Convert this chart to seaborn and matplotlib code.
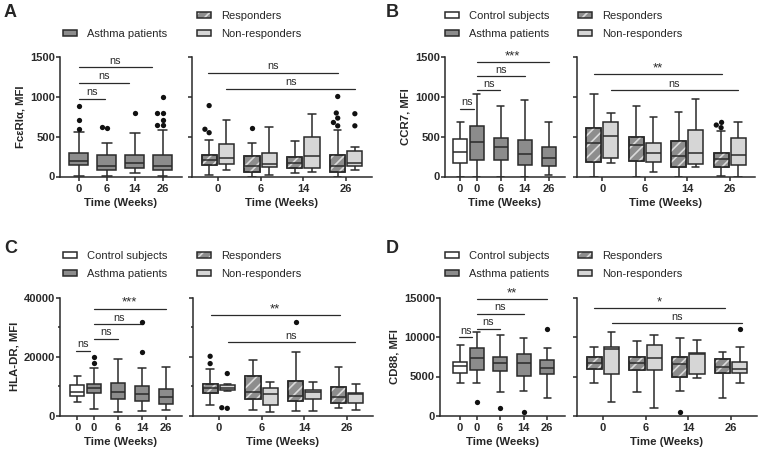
import matplotlib
matplotlib.use("Agg")
import numpy as np
import pandas as pd
import matplotlib.pyplot as plt
import matplotlib.patches as mpatches
from matplotlib.colors import to_rgb
from matplotlib.legend_handler import HandlerTuple
import seaborn as sns

weeks = ["0", "6", "14", "26"]

# box summaries: [lower whisker, Q1, median, Q3, upper whisker]
# A - FcεRIα
a_asthma = [[10, 148, 190, 300, 555], [10, 76, 135, 267, 415],
            [42, 106, 174, 275, 550], [10, 85, 135, 275, 585]]
a_asthma_out = [[890, 710, 600], [605, 627], [797], [1004, 797, 797, 712, 644, 644]]
a_resp = [[13, 140, 203, 267, 458], [0, 59, 135, 263, 415],
          [42, 110, 174, 246, 449], [0, 51, 135, 271, 585]]
a_resp_out = [[890, 593, 550], [606], [], [1004, 797, 733, 678, 636]]
a_nonresp = [[76, 161, 237, 407, 712], [13, 119, 161, 297, 627],
             [55, 106, 258, 492, 788], [85, 135, 174, 318, 373]]
a_nonresp_out = [[], [], [], [788, 636]]

# B - CCR7
b_control = [0, 175, 304, 467, 680]
b_asthma = [[0, 208, 429, 633, 1030], [0, 208, 375, 488, 888],
            [0, 146, 279, 458, 958], [21, 133, 238, 375, 680]]
b_asthma_out = [[], [], [], []]
b_resp = [[0, 179, 425, 604, 1030], [0, 196, 396, 500, 888],
          [0, 125, 263, 446, 813], [8, 125, 221, 292, 571]]
b_resp_out = [[], [], [], [679, 613, 646]]
b_nonresp = [[167, 229, 508, 679, 800], [54, 188, 292, 417, 742],
             [125, 154, 292, 583, 967], [0, 146, 267, 479, 679]]
b_nonresp_out = [[], [], [], []]

# C - HLA-DR
c_control = [4620, 6870, 8230, 10480, 13630]
c_asthma = [[2370, 7660, 9350, 10820, 16110], [1240, 5630, 8000, 11270, 19160],
            [1580, 5180, 7320, 10250, 16340], [2030, 4060, 6310, 9010, 16680]]
c_asthma_out = [[20060, 17800], [], [31660, 21750], []]
c_resp = [[3700, 7620, 9520, 10970, 15900], [1900, 5820, 8060, 13660, 19040],
          [1680, 5040, 6720, 11760, 21610], [2580, 4260, 6380, 9740, 16570]]
c_resp_out = [[20160, 17690], [], [31690], []]
c_nonresp = [[8400, 8740, 9520, 10300, 10970], [1340, 3700, 7280, 9300, 11530],
             [1680, 5820, 8180, 8740, 11420], [1900, 4260, 7280, 7840, 10640]]
c_nonresp_out = [[14330, 2580, 2800], [], [], []]

# D - CD88
d_control = [4130, 5480, 6360, 6870, 8930]
d_asthma = [[4130, 5820, 7290, 8560, 10580], [2990, 5730, 6660, 7500, 10240],
            [3160, 5100, 6660, 7800, 9900], [2320, 5310, 6030, 7080, 8640]]
d_asthma_out = [[1810], [970], [550], [10960]]
d_resp = [[4210, 5900, 6740, 7420, 8770], [2990, 5820, 6660, 7420, 9520],
          [3200, 4970, 6530, 7500, 9820], [2320, 5390, 6150, 7160, 8130]]
d_resp_out = [[], [], [460], []]
d_nonresp = [[1810, 5310, 8470, 8770, 10660], [970, 5820, 7290, 8980, 10240],
             [4850, 5310, 7840, 7920, 9610], [4130, 5390, 5900, 6870, 8680]]
d_nonresp_out = [[], [], [], [10960]]

# styling
EDGE = "#2a2a2a"
COLORS = {"Control subjects": "white", "Asthma patients": "#8c8c8c",
          "Responders": "#8d8d8d", "Non-responders": "#d6d6d6"}
HATCH = "#dadada"
LW = 1.1
DOT_SIZE = 3.8
GROUPS = ["Responders", "Non-responders"]
CTRL_POS = -0.7
ASTHMA_POS = [0, 1, 2, 3]
TICK_FS = 8
LABEL_FS = 8.2

sns.set_style("ticks")
plt.rcParams["font.family"] = ["Liberation Sans", "DejaVu Sans"]
plt.rcParams.update({
    "axes.edgecolor": EDGE, "axes.linewidth": LW,
    "xtick.color": EDGE, "ytick.color": EDGE,
    "xtick.major.width": LW, "ytick.major.width": LW, "ytick.minor.width": LW,
    "xtick.major.size": 2.6, "ytick.major.size": 2.6, "ytick.minor.size": 1.8,
    "xtick.major.pad": 2.5, "ytick.major.pad": 1.0,
    "hatch.linewidth": 1.2,
})

W, H = 774, 462
fig = plt.figure(figsize=(W / 100, H / 100), dpi=100)


def px_axes(x0, y0, w, h):
    return fig.add_axes([x0 / W, 1 - (y0 + h) / H, w / W, h / H])


def add_hatch(ax, patch):
    z = patch.get_zorder()
    ax.add_patch(mpatches.PathPatch(patch.get_path(), transform=patch.get_transform(),
                                    facecolor="none", edgecolor=HATCH, hatch="///",
                                    lw=0, zorder=z + 0.01))
    ax.add_patch(mpatches.PathPatch(patch.get_path(), transform=patch.get_transform(),
                                    facecolor="none", edgecolor=EDGE, lw=LW, zorder=z + 0.02))


def brackets(ax, specs):
    for x1, x2, y, label in specs:
        ax.plot([x1, x2], [y, y], color=EDGE, lw=0.9, clip_on=False)
        fs = 9.5 if "*" in label else 7.8
        dy = 0.0 if "*" in label else 1.2
        ax.annotate(label, ((x1 + x2) / 2, y), xytext=(0, dy), textcoords="offset points",
                    ha="center", va="bottom", fontsize=fs, color=EDGE)


def style_axes(ax, ylim, yticks, ylabel=None, minor=None):
    ax.set_ylim(*ylim)
    ax.set_yticks(yticks)
    if minor:
        ax.set_yticks(minor, minor=True)
    sns.despine(ax=ax)
    ax.set_xlabel("Time (Weeks)", fontsize=LABEL_FS, fontweight="bold", labelpad=3)
    for t in ax.get_xticklabels() + ax.get_yticklabels():
        t.set_fontweight("bold")
        t.set_fontsize(TICK_FS)
    if ylabel:
        ax.set_ylabel(ylabel, fontsize=LABEL_FS, fontweight="bold", labelpad=3)
    else:
        ax.set_ylabel("")
        ax.tick_params(axis="y", labelleft=False)


def left_panel(ax, control, asthma, asthma_out, width, xlim):
    rows = []
    if control is not None:
        rows += [(CTRL_POS, "Control subjects", v) for v in control]
    for pos, five in zip(ASTHMA_POS, asthma):
        rows += [(pos, "Asthma patients", v) for v in five]
    df = pd.DataFrame(rows, columns=["pos", "group", "value"])
    sns.boxplot(data=df, x="pos", y="value", hue="group", palette=COLORS,
                native_scale=True, dodge=False, width=width, whis=(0, 100),
                showfliers=False, linecolor=EDGE, linewidth=LW, saturation=1,
                legend=False, ax=ax)
    out = pd.DataFrame([(pos, v) for pos, vals in zip(ASTHMA_POS, asthma_out) for v in vals],
                       columns=["pos", "value"])
    if len(out):
        sns.swarmplot(data=out, x="pos", y="value", native_scale=True, color="#111111",
                      size=DOT_SIZE, ax=ax)
    if control is not None:
        ax.set_xticks([CTRL_POS] + ASTHMA_POS, ["0"] + weeks)
    else:
        ax.set_xticks(ASTHMA_POS, weeks)
    ax.set_xlim(*xlim)


def right_panel(ax, resp, resp_out, nonresp, nonresp_out):
    rows = [(w, "Responders", v) for w, five in zip(weeks, resp) for v in five]
    rows += [(w, "Non-responders", v) for w, five in zip(weeks, nonresp) for v in five]
    df = pd.DataFrame(rows, columns=["week", "group", "value"])
    sns.boxplot(data=df, x="week", y="value", hue="group", order=weeks, hue_order=GROUPS,
                palette=COLORS, dodge=True, width=0.8, gap=0.12, whis=(0, 100),
                showfliers=False, linecolor=EDGE, linewidth=LW, saturation=1,
                legend=False, ax=ax)
    resp_rgb = to_rgb(COLORS["Responders"])
    for p in list(ax.patches):
        if np.allclose(p.get_facecolor()[:3], resp_rgb):
            add_hatch(ax, p)
    orows = [(w, "Responders", v) for w, vals in zip(weeks, resp_out) for v in vals]
    orows += [(w, "Non-responders", v) for w, vals in zip(weeks, nonresp_out) for v in vals]
    out = pd.DataFrame(orows, columns=["week", "group", "value"])
    if len(out):
        sns.swarmplot(data=out, x="week", y="value", hue="group", order=weeks,
                      hue_order=GROUPS, palette={g: "#111111" for g in GROUPS},
                      dodge=True, size=DOT_SIZE, legend=False, ax=ax)
    ax.set_xticks(range(len(weeks)), weeks)
    ax.set_xlim(-0.6, 3.6)


# legend handles
def box_handle(name):
    return mpatches.Patch(facecolor=COLORS[name], edgecolor=EDGE, lw=LW)


resp_handle = (mpatches.Patch(facecolor=COLORS["Responders"], edgecolor="none"),
               mpatches.Patch(facecolor="none", edgecolor=HATCH, hatch="///", lw=0),
               mpatches.Patch(facecolor="none", edgecolor=EDGE, lw=LW))
handles = {"Control subjects": box_handle("Control subjects"),
           "Asthma patients": box_handle("Asthma patients"),
           "Responders": resp_handle,
           "Non-responders": box_handle("Non-responders")}


def legend(x, y, names):
    fig.legend([handles[n] for n in names], names, loc="upper left",
               bbox_to_anchor=(x / W, 1 - y / H), frameon=False, fontsize=8,
               handlelength=1.3, handleheight=0.55, handletextpad=0.85,
               labelspacing=0.72, borderpad=0, borderaxespad=0,
               handler_map={tuple: HandlerTuple(ndivide=1, pad=0)})


# ---- A ----
ax = px_axes(60, 57, 122, 119.5)
left_panel(ax, None, a_asthma, a_asthma_out, 0.68, (-0.68, 3.69))
style_axes(ax, (0, 1500), [0, 500, 1000, 1500], "FcεRIα, MFI")
brackets(ax, [(0, 0.94, 975, "ns"), (0, 1.78, 1178, "ns"), (0, 2.61, 1369, "ns")])

ax = px_axes(192, 57, 180, 119.5)
right_panel(ax, a_resp, a_resp_out, a_nonresp, a_nonresp_out)
style_axes(ax, (0, 1500), [0, 500, 1000, 1500])
brackets(ax, [(-0.23, 2.80, 1305, "ns"), (0.19, 3.21, 1102, "ns")])

# ---- B ----
ax = px_axes(445, 57, 120, 119.5)
left_panel(ax, b_control, b_asthma, b_asthma_out, 0.85, (-1.33, 3.67))
style_axes(ax, (0, 1500), [0, 500, 1000, 1500], "CCR7, MFI")
brackets(ax, [(CTRL_POS, -0.11, 846, "ns"), (0, 0.97, 1083, "ns"),
              (0, 1.99, 1258, "ns"), (0, 3.0, 1437, "***")])

ax = px_axes(577, 57, 178, 119.5)
right_panel(ax, b_resp, b_resp_out, b_nonresp, b_nonresp_out)
style_axes(ax, (0, 1500), [0, 500, 1000, 1500])
brackets(ax, [(-0.21, 2.81, 1283, "**"), (0.2, 3.2, 1083, "ns")])

# ---- C ----
ax = px_axes(60, 297.5, 122, 118.5)
left_panel(ax, c_control, c_asthma, c_asthma_out, 0.85, (-1.42, 3.67))
style_axes(ax, (0, 40000), [0, 20000, 40000], "HLA-DR, MFI", minor=[10000, 30000])
brackets(ax, [(-0.75, -0.17, 22080, "ns"), (0, 1.0, 26030, "ns"),
              (0, 2.05, 30990, "ns"), (0, 2.99, 36170, "***")])

ax = px_axes(193, 297.5, 180, 118.5)
right_panel(ax, c_resp, c_resp_out, c_nonresp, c_nonresp_out)
style_axes(ax, (0, 40000), [0, 20000, 40000], minor=[10000, 30000])
brackets(ax, [(-0.19, 2.82, 33930, "**"), (0.21, 3.18, 24860, "ns")])

# ---- D ----
ax = px_axes(440, 297.5, 125, 118.5)
left_panel(ax, d_control, d_asthma, d_asthma_out, 0.85, (-1.55, 3.75))
style_axes(ax, (0, 15000), [0, 5000, 10000, 15000], "CD88, MFI")
brackets(ax, [(-0.73, -0.18, 9945, "ns"), (0, 1.0, 11040, "ns"),
              (0, 2.0, 12895, "ns"), (0, 3.0, 14750, "**")])

ax = px_axes(577, 297.5, 180, 118.5)
right_panel(ax, d_resp, d_resp_out, d_nonresp, d_nonresp_out)
style_axes(ax, (0, 15000), [0, 5000, 10000, 15000])
brackets(ax, [(-0.21, 2.86, 13610, "*"), (0.21, 3.26, 11715, "ns")])

# legends
legend(63, 29, ["Asthma patients"])
legend(197, 11, GROUPS)
legend(445, 11, ["Control subjects", "Asthma patients"])
legend(578, 11, GROUPS)
legend(63, 251, ["Control subjects", "Asthma patients"])
legend(197, 251, GROUPS)
legend(445, 251, ["Control subjects", "Asthma patients"])
legend(578, 251, GROUPS)

# panel letters
for letter, x, y in [("A", 4, 4), ("B", 386, 4), ("C", 4, 240), ("D", 386, 240)]:
    fig.text(x / W, 1 - y / H, letter, fontsize=13, fontweight="bold", va="top", ha="left")

fig.savefig("out.png", dpi=100)
